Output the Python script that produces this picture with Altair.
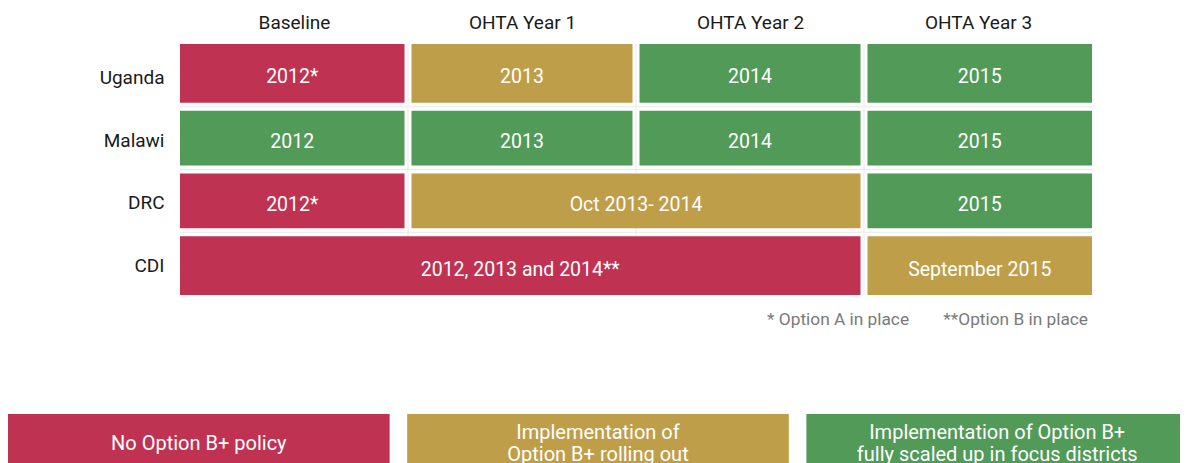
import json
import altair as alt
import pandas as pd

# ---------------- data ----------------
countries = ["Uganda", "Malawi", "DRC", "CDI"]
periods = ["Baseline", "OHTA Year 1", "OHTA Year 2", "OHTA Year 3"]

seg_country = ["Uganda", "Uganda", "Uganda", "Uganda",
               "Malawi", "Malawi", "Malawi", "Malawi",
               "DRC", "DRC", "DRC",
               "CDI", "CDI"]
seg_start = [0, 1, 2, 3, 0, 1, 2, 3, 0, 1, 3, 0, 3]
seg_end = [1, 2, 3, 4, 1, 2, 3, 4, 1, 3, 4, 3, 4]
seg_label = ["2012*", "2013", "2014", "2015",
             "2012", "2013", "2014", "2015",
             "2012*", "Oct 2013- 2014", "2015",
             "2012, 2013 and 2014**", "September 2015"]
seg_status = ["none", "rolling", "full", "full",
              "full", "full", "full", "full",
              "none", "rolling", "full",
              "none", "rolling"]

status_keys = ["none", "rolling", "full"]
status_lines = [["No Option B+ policy"],
                ["Implementation of", "Option B+ rolling out"],
                ["Implementation of Option B+", "fully scaled up in focus districts"]]
status_colors = ["#BF3252", "#BF9E4A", "#519A58"]

footnote = "* Option A in place" + "\u00a0" * 8 + "**Option B in place"

# ---------------- layout constants ----------------
W, H = 912, 251
GX = 3.5 / 228.0   # half gap between columns (in column units)
GY = 4.0 / 62.75   # half gap between rows (in row units)
FONT = "Roboto"

n_col = len(periods)
n_row = len(countries)

rows = [countries.index(c) for c in seg_country]
bars = pd.DataFrame({
    "country": seg_country,
    "label": seg_label,
    "status": seg_status,
    "x": [s + GX if s > 0 else s for s in seg_start],
    "x2": [e - GX if e < n_col else e for e in seg_end],
    "y": [r + GY if r > 0 else r for r in rows],
    "y2": [r + 1 - GY if r < n_row - 1 else r + 1 for r in rows],
})
bars["xm"] = (bars["x"] + bars["x2"]) / 2
bars["ym"] = (bars["y"] + bars["y2"]) / 2

grid_v = pd.DataFrame({"x": list(range(1, n_col)), "y": 0, "y2": n_row})
grid_h = pd.DataFrame({"y": list(range(1, n_row)), "x": 0, "x2": n_col})

legend_df = pd.DataFrame({"status": status_keys, "lines": status_lines,
                          "n": [len(l) for l in status_lines]})

xs = alt.Scale(domain=[0, n_col], nice=False, zero=False)
ys = alt.Scale(domain=[0, n_row], nice=False, zero=False, reverse=True)

head_expr = json.dumps(periods) + "[floor(datum.value)]"
ctry_expr = json.dumps(countries) + "[floor(datum.value)]"

top_axis = alt.Axis(orient="top", values=[i + 0.5 for i in range(n_col)], labelExpr=head_expr,
                    domain=False, ticks=False, tickSize=0, grid=False, labelPadding=12,
                    labelFontSize=19, labelFont=FONT, labelColor="#1a1a1a", labelAngle=0,
                    labelOverlap=False, labelFlush=False, title=None)
left_axis = alt.Axis(orient="left", values=[i + 0.5 for i in range(n_row)], labelExpr=ctry_expr,
                     domain=False, ticks=False, tickSize=0, grid=False, labelPadding=16,
                     labelFontSize=19, labelFont=FONT, labelColor="#1a1a1a", labelOffset=2,
                     labelOverlap=False, labelFlush=False, title=None)

color_scale = alt.Scale(domain=status_keys, range=status_colors)

gv = alt.Chart(grid_v).mark_rule(color="#e9e9e9", strokeWidth=1).encode(
    x=alt.X("x:Q", scale=xs, axis=top_axis),
    y=alt.Y("y:Q", scale=ys, axis=left_axis),
    y2="y2:Q",
)
gh = alt.Chart(grid_h).mark_rule(color="#e9e9e9", strokeWidth=1).encode(
    x=alt.X("x:Q", scale=xs, axis=top_axis),
    x2="x2:Q",
    y=alt.Y("y:Q", scale=ys, axis=left_axis),
)
rects = alt.Chart(bars).mark_rect().encode(
    x=alt.X("x:Q", scale=xs, axis=top_axis),
    x2="x2:Q",
    y=alt.Y("y:Q", scale=ys, axis=left_axis),
    y2="y2:Q",
    color=alt.Color("status:N", scale=color_scale, legend=None),
)
labels = alt.Chart(bars).mark_text(color="white", fontSize=19.5, font=FONT, dy=4,
                                   baseline="middle", align="center").encode(
    x=alt.X("xm:Q", scale=xs, axis=top_axis),
    y=alt.Y("ym:Q", scale=ys, axis=left_axis),
    text="label:N",
)

main = alt.layer(gv, gh, rects, labels)

notes = alt.Chart(pd.DataFrame({"t": [footnote]})).mark_text(
    color="#7a7a7a", fontSize=17.3, font=FONT, align="right", baseline="alphabetic", dx=-4
).encode(
    x=alt.value(W),
    y=alt.value(281),
    text="t:N",
)

lx = alt.Scale(domain=status_keys, range=[-172, 1008], paddingInner=0.044, paddingOuter=0)
ly = alt.Scale(domain=[1, 2], range=[400, 389], nice=False, zero=False)
leg_rect = alt.Chart(legend_df).mark_rect().encode(
    x=alt.X("status:N", scale=lx, axis=None, sort=status_keys),
    y=alt.value(370),
    y2=alt.value(440),
    color=alt.Color("status:N", scale=color_scale, legend=None),
)
leg_text = alt.Chart(legend_df).mark_text(color="white", fontSize=20, font=FONT,
                                          lineHeight=22, baseline="middle", dy=0).encode(
    x=alt.X("status:N", scale=lx, axis=None, sort=status_keys),
    y=alt.Y("n:Q", scale=ly, axis=None),
    text="lines",
)
legend = alt.layer(leg_rect, leg_text)

chart = alt.layer(main, notes, legend).resolve_scale(x="independent", y="independent", color="shared").properties(
    width=W, height=H,
    autosize=alt.AutoSizeParams(type="none"),
    padding={"left": 172, "top": 36, "right": 88, "bottom": 176},
).configure_view(stroke=None)

chart.save("out.html", embed_options={"renderer": "svg", "actions": False})
